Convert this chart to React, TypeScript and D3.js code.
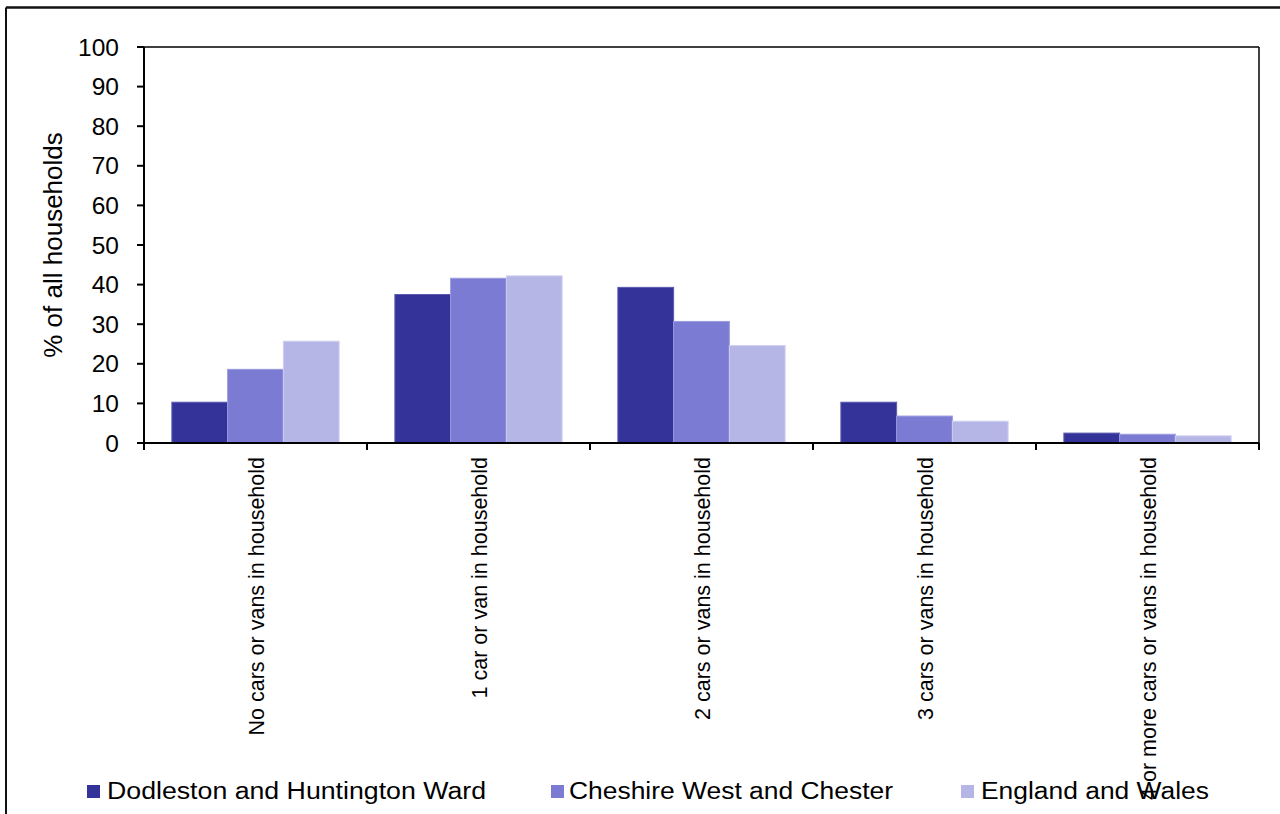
import React from "react";
import * as d3 from "d3";

const categories = [
  "No cars or vans in household",
  "1 car or van in household",
  "2 cars or vans in household",
  "3 cars or vans in household",
  "4 or more cars or vans in household",
];
const seriesNames = [
  "Dodleston and Huntington Ward",
  "Cheshire West and Chester",
  "England and Wales",
];
const dodleston = [10.3, 37.5, 39.3, 10.3, 2.5];
const cheshire = [18.6, 41.6, 30.7, 6.8, 2.2];
const englandWales = [25.7, 42.2, 24.6, 5.5, 1.8];
const yTicks = [0, 10, 20, 30, 40, 50, 60, 70, 80, 90, 100];

const seriesValues = [dodleston, cheshire, englandWales];
const colors = ["#333399", "#7B7BD3", "#B6B6E6"];
const strokes = ["#5a5ab0", "#9a9ae0", "#cfcff2"];

const W = 1280;
const H = 814;
const left = 144;
const right = 1259;
const top = 47;
const bottom = 443;
const font = "'Liberation Sans', Arial, sans-serif";

export default function App() {
  const x = d3.scaleBand<string>().domain(categories).range([left, right]).paddingInner(0).paddingOuter(0);
  const groupInset = x.bandwidth() * 0.125;
  const barW = (x.bandwidth() * 0.75) / 3;
  const y = d3.scaleLinear().domain([0, 100]).range([bottom, top]);

  const boundaries = [...categories.map((c) => x(c)!), right];

  const legendItems = [
    { sx: 87, tx: 107, len: 379 },
    { sx: 551, tx: 569, len: 324 },
    { sx: 961, tx: 981, len: 228 },
  ];

  return (
    <div style={{ position: "fixed", left: 0, top: 0, width: W, height: H, background: "#fff" }}>
      <svg width={W} height={H} style={{ display: "block", fontFamily: font }}>
        <rect x={0} y={0} width={W} height={H} fill="#fff" />
        {/* outer border */}
        <line x1={6} y1={7.5} x2={W} y2={7.5} stroke="#111" strokeWidth={2.5} />
        <line x1={6} y1={7.5} x2={6} y2={H} stroke="#111" strokeWidth={2} />

        {/* bars */}
        {categories.map((c, ci) =>
          seriesValues.map((vals, si) => {
            const bx = x(c)! + groupInset + si * barW;
            return (
              <rect
                key={`${ci}-${si}`}
                x={bx}
                y={y(vals[ci])}
                width={barW}
                height={bottom - y(vals[ci])}
                fill={colors[si]}
                stroke={strokes[si]}
                strokeWidth={1}
              />
            );
          })
        )}

        {/* plot box */}
        <line x1={left} y1={top} x2={right} y2={top} stroke="#000" strokeWidth={1.5} />
        <line x1={right} y1={top} x2={right} y2={bottom + 7} stroke="#000" strokeWidth={1.5} />
        <line x1={left} y1={top} x2={left} y2={bottom} stroke="#000" strokeWidth={2} />
        <line x1={left - 7} y1={bottom} x2={right} y2={bottom} stroke="#000" strokeWidth={2} />

        {/* y ticks */}
        {yTicks.map((t) => (
          <g key={t}>
            <line x1={left - 7} y1={y(t)} x2={left} y2={y(t)} stroke="#000" strokeWidth={2} />
            <text x={119} y={y(t) + 8.5} textAnchor="end" fontSize={24.5} fill="#000">
              {t}
            </text>
          </g>
        ))}

        {/* x ticks */}
        {boundaries.map((b, i) => (
          <line key={i} x1={b} y1={bottom} x2={b} y2={bottom + 7} stroke="#000" strokeWidth={2} />
        ))}

        {/* x labels */}
        {categories.map((c) => {
          const cx = x(c)! + x.bandwidth() / 2 + 8;
          return (
            <text
              key={c}
              transform={`translate(${cx},${457}) rotate(-90)`}
              textAnchor="end"
              fontSize={21.5}
              fill="#000"
            >
              {c}
            </text>
          );
        })}

        {/* y title */}
        <text
          transform={`translate(${62},${245}) rotate(-90)`}
          textAnchor="middle"
          fontSize={26}
          fill="#000"
        >
          % of all households
        </text>

        {/* legend */}
        {seriesNames.map((n, i) => (
          <g key={n}>
            <rect x={legendItems[i].sx} y={785} width={13} height={13} fill={colors[i]} />
            <text
              x={legendItems[i].tx}
              y={799}
              fontSize={23}
              fill="#000"
              textLength={legendItems[i].len}
              lengthAdjust="spacingAndGlyphs"
            >
              {n}
            </text>
          </g>
        ))}
      </svg>
    </div>
  );
}
